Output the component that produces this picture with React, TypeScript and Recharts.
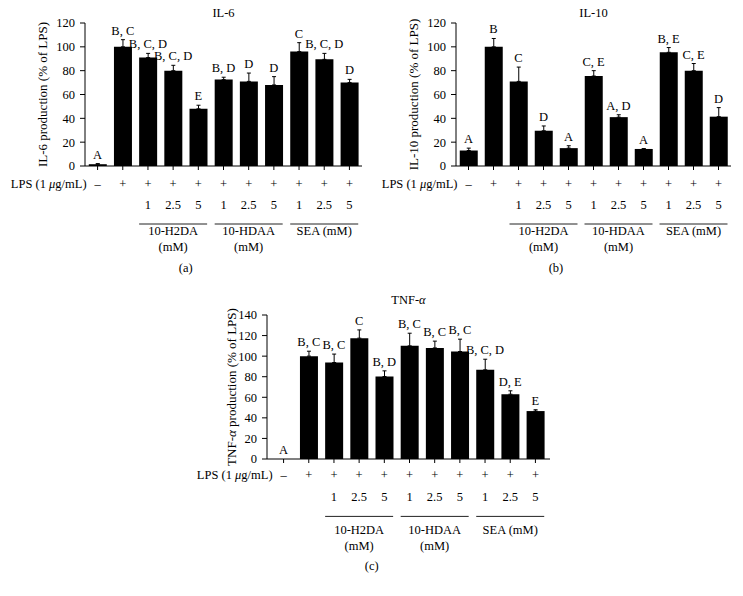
import React from 'react';
import { ComposedChart, Bar, ErrorBar, Line, LabelList, XAxis, YAxis } from 'recharts';

// treatment columns, shared by all three panels
const conditions = ['Control', 'LPS', 'H2DA 1', 'H2DA 2.5', 'H2DA 5', 'HDAA 1', 'HDAA 2.5', 'HDAA 5', 'SEA 1', 'SEA 2.5', 'SEA 5'];
const lpsSigns = ['–', '+', '+', '+', '+', '+', '+', '+', '+', '+', '+'];
const doses = ['', '', '1', '2.5', '5', '1', '2.5', '5', '1', '2.5', '5'];
const groups = [
  { index: 3, name: '10-H2DA', unit: '(mM)' },
  { index: 6, name: '10-HDAA', unit: '(mM)' },
  { index: 9, name: 'SEA (mM)', unit: '' },
];

const il6Values = [1.5, 100, 91, 80, 48, 72.5, 71, 68, 96, 89.5, 70];
const il6Errors = [0.5, 6, 3.5, 4.5, 3, 2, 7, 7, 7.5, 5, 2.7];
const il6Letters = ['A', 'B, C', 'B, C, D', 'B, C, D', 'E', 'B, D', 'D', 'D', 'C', 'B, C, D', 'D'];

const il10Values = [13, 100, 71, 29.6, 15, 75.5, 41, 14.3, 95.4, 80, 41.4];
const il10Errors = [2, 7, 12, 4, 2, 4.5, 2, 0.3, 4, 6, 7.6];
const il10Letters = ['A', 'B', 'C', 'D', 'A', 'C, E', 'A, D', 'A', 'B, E', 'C, E', 'D'];

const tnfValues = [0, 100, 93.8, 117.5, 80.2, 110, 108, 104.5, 86.7, 63, 46.6];
const tnfErrors = [0, 4.8, 8.2, 8, 5.5, 12.3, 6.6, 12, 10.3, 3.3, 1.3];
const tnfLetters = ['A', 'B, C', 'B, C', 'C', 'B, D', 'B, C', 'B, C', 'B, C', 'B, C, D', 'D, E', 'E'];

const ticks120 = [0, 20, 40, 60, 80, 100, 120];
const ticks140 = [0, 20, 40, 60, 80, 100, 120, 140];

const buildRows = (values: number[], errors: number[], letters: string[]) =>
  conditions.map((name, i) => ({
    name,
    value: values[i],
    err: [0, errors[i]],
    top: values[i] + errors[i],
    letter: letters[i],
  }));

const FONT = "'Liberation Serif', 'Times New Roman', serif";
const FS = 12.5;

function ConditionTick({ x, y, payload, rows, caption, halfBand }: any) {
  const i = conditions.indexOf(payload.value);
  const base = y - 4; // the axis line
  const group = groups.find((g) => g.index === i);
  const t = { fill: '#000', fontSize: FS, dominantBaseline: 'central' as const, textAnchor: 'middle' as const };
  return (
    <g>
      {i === 0 && (
        <text {...t} x={x - 11} y={base + rows.lps} textAnchor="end">
          LPS (1 <tspan fontStyle="italic">μ</tspan>g/mL)
        </text>
      )}
      <text {...t} x={x} y={base + rows.lps}>{lpsSigns[i]}</text>
      {doses[i] && <text {...t} x={x} y={base + rows.dose}>{doses[i]}</text>}
      {group && (
        <g>
          <line x1={x - 34} x2={x + 34} y1={base + rows.rule} y2={base + rows.rule} stroke="#222" strokeWidth={1} />
          <text {...t} x={x} y={base + rows.group1}>{group.name}</text>
          {group.unit && <text {...t} x={x} y={base + rows.group2}>{group.unit}</text>}
        </g>
      )}
      {i === 3 && <text {...t} x={x + halfBand} y={base + rows.caption}>{caption}</text>}
    </g>
  );
}

const yLabel = (content: React.ReactNode, gap: number) => (props: any) => {
  const vb = props.viewBox;
  const cx = vb.x + vb.width - gap;
  const cy = vb.y + vb.height / 2;
  return (
    <text x={cx} y={cy} transform={`rotate(-90 ${cx} ${cy})`} textAnchor="middle" dominantBaseline="central" fontSize={13} fill="#000">
      {content}
    </text>
  );
};

function Panel(p: any) {
  const plotLeft = p.margin.left + 60;
  const plotWidth = p.width - plotLeft - p.margin.right;
  return (
    <div style={{ position: 'absolute', left: p.left, top: p.top, width: p.width, height: p.height }}>
      <div style={{ position: 'absolute', left: plotLeft, width: plotWidth, top: p.titleTop, textAlign: 'center', fontSize: FS, lineHeight: '14px' }}>
        {p.title}
      </div>
      <ComposedChart width={p.width} height={p.height} data={p.data} margin={p.margin} barCategoryGap="15%">
        <XAxis
          dataKey="name"
          interval={0}
          height={30}
          tickSize={4}
          tickMargin={0}
          padding={p.padding}
          axisLine={{ stroke: '#000' }}
          tickLine={{ stroke: '#000' }}
          tick={(t: any) => <ConditionTick {...t} rows={p.rows} caption={p.caption} halfBand={p.halfBand} />}
        />
        <YAxis
          type="number"
          width={60}
          domain={[0, p.ticks[p.ticks.length - 1]]}
          ticks={p.ticks}
          interval={0}
          tickSize={5}
          tickMargin={5}
          axisLine={{ stroke: '#000' }}
          tickLine={{ stroke: '#000' }}
          tick={{ fill: '#000', fontSize: FS }}
          label={{ content: yLabel(p.yLabel, p.yLabelGap) }}
        />
        <Bar dataKey="value" fill="#000" isAnimationActive={false}>
          <ErrorBar dataKey="err" width={2} stroke="#000" strokeWidth={1} direction="y" />
        </Bar>
        <Line dataKey="top" stroke="none" dot={false} activeDot={false} isAnimationActive={false}>
          <LabelList dataKey="letter" position="top" offset={5} fill="#000" fontSize={FS} />
        </Line>
      </ComposedChart>
    </div>
  );
}

const rowsAB = { lps: 18, dose: 39, rule: 58, group1: 64.5, group2: 81, caption: 102 };
const rowsC = { lps: 15.7, dose: 38.4, rule: 57.4, group1: 70.7, group2: 87.4, caption: 107.4 };

export default function App() {
  return (
    <div style={{ position: 'absolute', left: 0, top: 0, width: 743, height: 596, background: '#fff', fontFamily: FONT, color: '#000' }}>
      <Panel
        left={0}
        top={0}
        width={370}
        height={290}
        margin={{ top: 23, right: 8, bottom: 94, left: 25 }}
        padding={{ left: 0, right: 0 }}
        data={buildRows(il6Values, il6Errors, il6Letters)}
        ticks={ticks120}
        title="IL-6"
        titleTop={6}
        yLabel="IL-6 production (% of LPS)"
        yLabelGap={43}
        rows={rowsAB}
        caption="(a)"
        halfBand={12.6}
      />
      <Panel
        left={370}
        top={0}
        width={373}
        height={290}
        margin={{ top: 23, right: 12, bottom: 94, left: 26 }}
        padding={{ left: 0, right: 0 }}
        data={buildRows(il10Values, il10Errors, il10Letters)}
        ticks={ticks120}
        title="IL-10"
        titleTop={6}
        yLabel="IL-10 production (% of LPS)"
        yLabelGap={43}
        rows={rowsAB}
        caption="(b)"
        halfBand={12.5}
      />
      <Panel
        left={180}
        top={290}
        width={400}
        height={306}
        margin={{ top: 25, right: 30, bottom: 107, left: 27 }}
        padding={{ left: 4, right: 2 }}
        data={buildRows(tnfValues, tnfErrors, tnfLetters)}
        ticks={ticks140}
        title={<span>TNF-<i>α</i></span>}
        titleTop={3}
        yLabel={<>TNF-<tspan fontStyle="italic">α</tspan> production (% of LPS)</>}
        yLabelGap={36}
        rows={rowsC}
        caption="(c)"
        halfBand={12.6}
      />
    </div>
  );
}
